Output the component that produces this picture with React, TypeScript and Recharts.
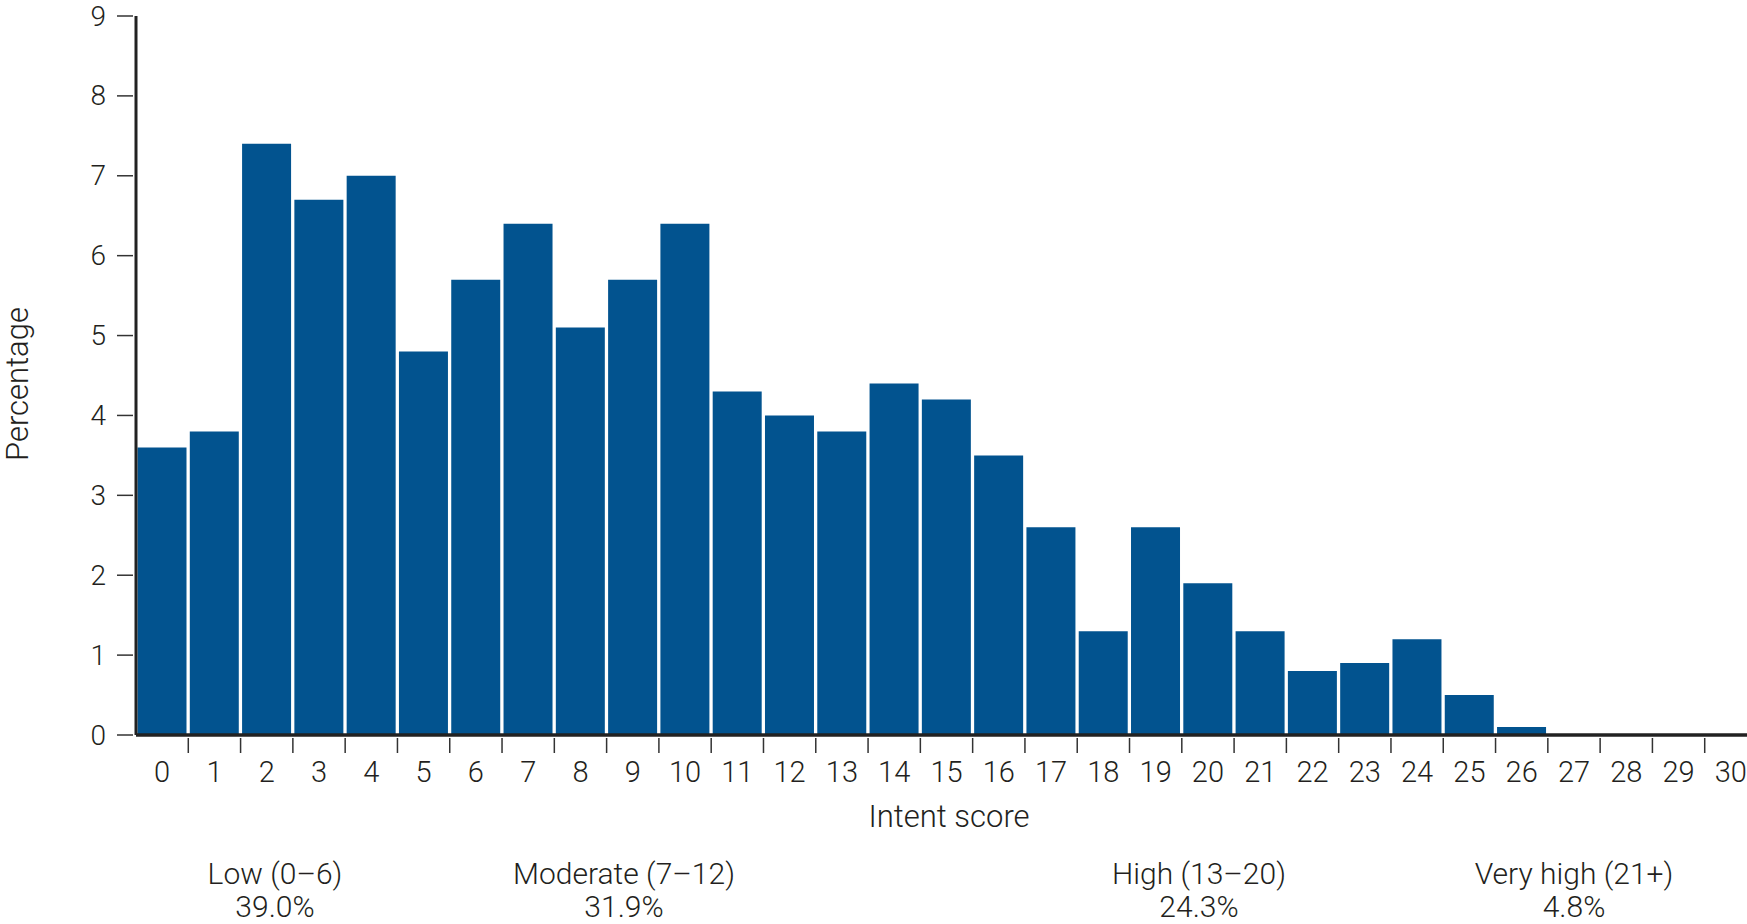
import React from 'react';
import { BarChart, Bar, XAxis, YAxis } from 'recharts';

const scores = ['0', '1', '2', '3', '4', '5', '6', '7', '8', '9', '10', '11', '12', '13', '14', '15', '16', '17', '18', '19', '20', '21', '22', '23', '24', '25', '26', '27', '28', '29', '30'];
const percentages = [3.6, 3.8, 7.4, 6.7, 7.0, 4.8, 5.7, 6.4, 5.1, 5.7, 6.4, 4.3, 4.0, 3.8, 4.4, 4.2, 3.5, 2.6, 1.3, 2.6, 1.9, 1.3, 0.8, 0.9, 1.2, 0.5, 0.1, 0, 0, 0, 0];
const yTicks = [0, 1, 2, 3, 4, 5, 6, 7, 8, 9];

const groupNames = ['Low (0–6)', 'Moderate (7–12)', 'High (13–20)', 'Very high (21+)'];
const groupShares = ['39.0%', '31.9%', '24.3%', '4.8%'];

// layout
const W = 1747;
const H = 924;
const MARGIN = { top: 16, right: -10, bottom: 129, left: 0 };
const Y_AXIS_W = 136;
const BAND = (W - Y_AXIS_W - MARGIN.left - MARGIN.right) / scores.length;
const groupX = [275, 624, 1199, 1574];
const FONT = 'Roboto, "Liberation Sans", sans-serif';
const INK = '#231f20';
const BLUE = '#02538f';

const data = scores.map((s, i) => ({ score: s, value: percentages[i] }));

function YTick({ x, y, payload }: any) {
  return (
    <g>
      <line x1={x - 19} x2={x - 3} y1={y} y2={y} stroke="#333" strokeWidth={1.5} />
      <text x={x - 30} y={y} textAnchor="end" dominantBaseline="central" fontSize={28} fontWeight={300} fontFamily={FONT} fill={INK}>
        {payload.value}
      </text>
    </g>
  );
}

function XTick({ x, y, payload, index }: any) {
  const bx = x - BAND / 2;
  return (
    <g>
      {index > 0 && <line x1={bx} x2={bx} y1={y + 3} y2={y + 18} stroke="#333" strokeWidth={1.5} />}
      <text x={x} y={y + 37} textAnchor="middle" dominantBaseline="central" fontSize={29} fontWeight={300} fontFamily={FONT} fill={INK}>
        {payload.value}
      </text>
    </g>
  );
}

export default function App() {
  return (
    <div style={{ position: 'absolute', left: 0, top: 0, width: W, height: H, background: '#fff', fontFamily: FONT, color: INK }}>
      <BarChart width={W} height={H} data={data} margin={MARGIN} barCategoryGap={1.5}>
        <XAxis
          dataKey="score"
          interval={0}
          height={60}
          tickSize={0}
          tickMargin={0}
          tickLine={false}
          tick={<XTick />}
          axisLine={{ stroke: '#222', strokeWidth: 3.5 }}
        />
        <YAxis
          width={Y_AXIS_W}
          domain={[0, 9]}
          ticks={yTicks}
          interval={0}
          tickSize={0}
          tickMargin={0}
          tickLine={false}
          tick={<YTick />}
          axisLine={{ stroke: '#222', strokeWidth: 3 }}
        />
        <Bar dataKey="value" fill={BLUE} isAnimationActive={false} />
      </BarChart>

      <div style={{ position: 'absolute', left: 17, top: 384, transform: 'translate(-50%, -50%) rotate(-90deg)', fontSize: 31, fontWeight: 300, whiteSpace: 'nowrap' }}>
        Percentage
      </div>
      <div style={{ position: 'absolute', left: 949, top: 816, transform: 'translate(-50%, -50%)', fontSize: 31, fontWeight: 300, whiteSpace: 'nowrap' }}>
        Intent score
      </div>
      {groupNames.map((g, i) => (
        <div key={g} style={{ position: 'absolute', left: groupX[i], top: 857, transform: 'translateX(-50%)', fontSize: 30, fontWeight: 300, lineHeight: '33px', textAlign: 'center', whiteSpace: 'nowrap' }}>
          <div>{g}</div>
          <div>{groupShares[i]}</div>
        </div>
      ))}
    </div>
  );
}
